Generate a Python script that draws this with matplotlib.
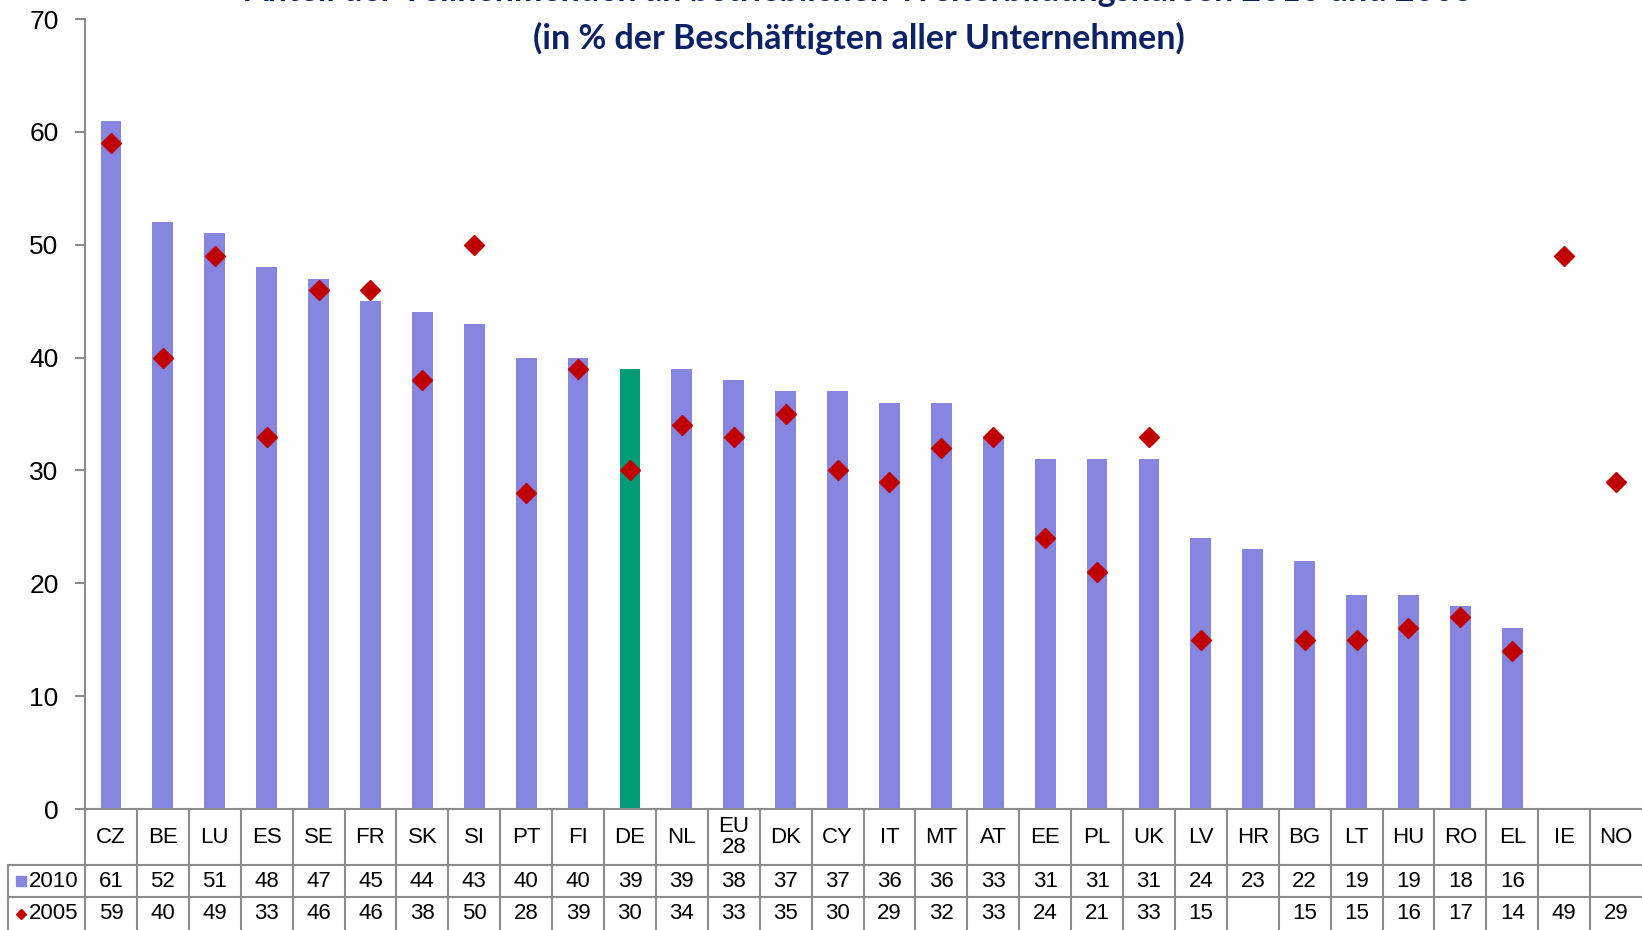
import matplotlib

matplotlib.use("Agg")
import matplotlib.pyplot as plt
import matplotlib.transforms as mtransforms
import numpy as np

COUNTRIES = ["CZ", "BE", "LU", "ES", "SE", "FR", "SK", "SI", "PT", "FI", "DE",
             "NL", "EU\n28", "DK", "CY", "IT", "MT", "AT", "EE", "PL", "UK",
             "LV", "HR", "BG", "LT", "HU", "RO", "EL", "IE", "NO"]
Y2010 = [61, 52, 51, 48, 47, 45, 44, 43, 40, 40, 39, 39, 38, 37, 37, 36, 36,
         33, 31, 31, 31, 24, 23, 22, 19, 19, 18, 16, None, None]
Y2005 = [59, 40, 49, 33, 46, 46, 38, 50, 28, 39, 30, 34, 33, 35, 30, 29, 32,
         33, 24, 21, 33, 15, None, 15, 15, 16, 17, 14, 49, 29]
HIGHLIGHT = "DE"

TITLE_1 = "Anteil der Teilnehmenden an betrieblichen Weiterbildungskursen 2010 und 2005"
TITLE_2 = "(in % der Beschäftigten aller Unternehmen)"

BAR = "#8686E0"
GREEN = "#009B77"
RED = "#C00000"
NAVY = "#0D2266"
GRID = "#8C8C8C"

plt.rcParams["font.family"] = ["Liberation Sans", "DejaVu Sans"]

W, H = 1642, 930
fig = plt.figure(figsize=(W / 100, H / 100), dpi=100)

# axes position in pixels (from top-left)
ax_left, ax_right, ax_top, ax_bot = 85, 1642, 19, 809
ax = fig.add_axes([ax_left / W, 1 - ax_bot / H,
                   (ax_right - ax_left) / W, (ax_bot - ax_top) / H])

n = len(COUNTRIES)
x = np.arange(n)
v10 = np.array([np.nan if v is None else v for v in Y2010], dtype=float)
v05 = np.array([np.nan if v is None else v for v in Y2005], dtype=float)
colors = [GREEN if c == HIGHLIGHT else BAR for c in COUNTRIES]

ax.bar(x, np.nan_to_num(v10), width=0.40, color=colors, zorder=2)
ax.plot(x, v05, linestyle="none", marker="D", ms=10.5, color=RED, zorder=3)

ax.set_xlim(-0.5, n - 0.5)
ax.set_ylim(0, 70)
ax.set_yticks(range(0, 71, 10))
ax.set_xticks([])
ax.tick_params(axis="y", labelsize=19, length=7, width=1.5, color=GRID, pad=12)
for s in ("top", "right", "bottom"):
    ax.spines[s].set_visible(False)
ax.spines["left"].set_color(GRID)
ax.spines["left"].set_linewidth(1.5)

# data table below the axes
def yf(p):
    return (ax_bot - p) / (ax_bot - ax_top)

def xf(p):
    return (p - ax_left) / (ax_right - ax_left) * n - 0.5

trans = mtransforms.blended_transform_factory(ax.transData, ax.transAxes)
rows = [809, 865, 897, 932]
lkw = dict(color=GRID, lw=1.5, transform=trans, clip_on=False)
ax.plot([-0.5, n - 0.5], [yf(rows[0])] * 2, **lkw)
for r in rows[1:3]:
    ax.plot([xf(8), n - 0.5], [yf(r)] * 2, **lkw)
for b in np.arange(n) - 0.5:
    ax.plot([b, b], [yf(809), yf(932)], **lkw)
ax.plot([xf(8), xf(8)], [yf(865), yf(932)], **lkw)

tkw = dict(transform=trans, ha="center", va="center", fontsize=16,
           clip_on=False, linespacing=0.95)
for i, c in enumerate(COUNTRIES):
    ax.text(i, yf(837), c, **tkw)
    if not np.isnan(v10[i]):
        ax.text(i, yf(881), f"{int(v10[i])}", **tkw)
    if not np.isnan(v05[i]):
        ax.text(i, yf(913.5), f"{int(v05[i])}", **tkw)

# legend keys in the row headers
ax.plot([xf(21)], [yf(881)], marker="s", ms=7, color=BAR, transform=trans, clip_on=False)
ax.text(xf(29), yf(881), "2010", transform=trans, ha="left", va="center",
        fontsize=16, clip_on=False)
ax.plot([xf(21)], [yf(913.5)], marker="D", ms=5, color=RED, transform=trans, clip_on=False)
ax.text(xf(29), yf(913.5), "2005", transform=trans, ha="left", va="center",
        fontsize=16, clip_on=False)

# title, partly cut off at the top as in the source
fig.text(859 / W, 1 - (-9) / H, TITLE_1, ha="center", va="center",
         fontsize=24.5, fontweight="bold", color=NAVY, family="Lato")
fig.text(859 / W, 1 - 38 / H, TITLE_2, ha="center", va="center",
         fontsize=24.5, fontweight="bold", color=NAVY, family="Lato")

fig.savefig("out.png", dpi=100)
